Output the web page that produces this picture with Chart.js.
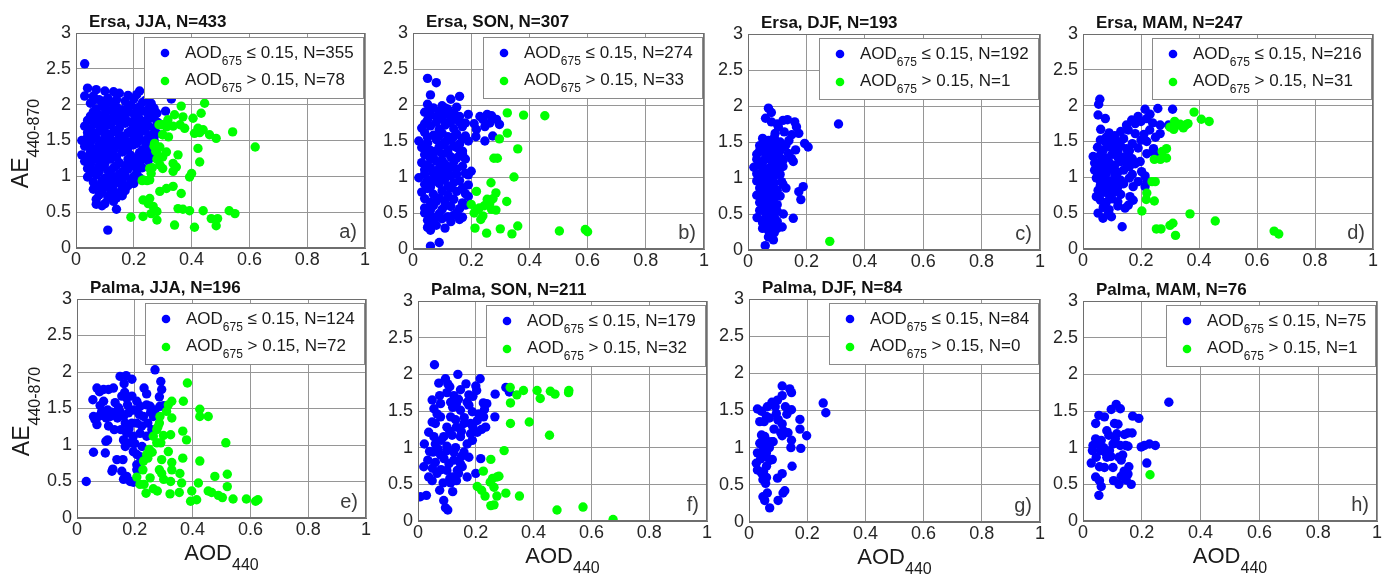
<!DOCTYPE html>
<html>
<head>
<meta charset="utf-8">
<script src="https://cdn.jsdelivr.net/npm/chart.js@4.4.1/dist/chart.umd.min.js"></script>
<style>
  body { margin: 0; background: #fff; width: 1383px; height: 574px; overflow: hidden; position: relative; }
  canvas { position: absolute; }
</style>
</head>
<body>
<script>
// ---- data: AE(440-870) vs AOD(440), split by AOD(675) threshold ----
const xTicks = [0, 0.2, 0.4, 0.6, 0.8, 1];
const yTicks = [0, 0.5, 1, 1.5, 2, 2.5, 3];

const sites = ['Ersa', 'Ersa', 'Ersa', 'Ersa', 'Palma', 'Palma', 'Palma', 'Palma'];
const seasons = ['JJA', 'SON', 'DJF', 'MAM', 'JJA', 'SON', 'DJF', 'MAM'];
const lowCounts = [355, 274, 192, 216, 124, 179, 84, 75];
const highCounts = [78, 33, 1, 31, 72, 32, 0, 1];
const panelLetters = ['a)', 'b)', 'c)', 'd)', 'e)', 'f)', 'g)', 'h)'];

const ersaJjaLow = [
  [0.03,2.57],[0.11,0.25],[0.33,2.08],[0.31,1.91],
  [0.04,2.23],[0.07,2.21],[0.10,2.19],[0.13,2.18],[0.03,2.12],[0.06,2.12],[0.08,2.07],[0.11,2.09],[0.15,2.16],[0.18,2.13],[0.21,2.14],[0.22,2.19],[0.25,2.09],[0.26,2.02],
  [0.05,2.02],[0.09,1.98],[0.12,2.03],[0.14,1.97],[0.17,2.05],[0.19,1.99],[0.23,2.03],[0.27,1.95],[0.16,1.93],[0.21,1.95],
  [0.06,1.90],[0.08,1.86],[0.11,1.92],[0.13,1.88],[0.15,1.85],[0.18,1.90],[0.20,1.87],[0.23,1.91],[0.25,1.86],[0.28,1.88],
  [0.04,1.78],[0.07,1.81],[0.09,1.76],[0.12,1.80],[0.14,1.77],[0.17,1.82],[0.19,1.76],[0.22,1.80],[0.24,1.77],[0.26,1.82],[0.28,1.76],
  [0.03,1.70],[0.05,1.66],[0.07,1.73],[0.10,1.69],[0.12,1.72],[0.15,1.67],[0.17,1.74],[0.20,1.69],[0.22,1.66],[0.25,1.71],[0.27,1.67],[0.29,1.73],
  [0.04,1.61],[0.06,1.57],[0.08,1.63],[0.11,1.59],[0.13,1.62],[0.16,1.56],[0.18,1.61],[0.21,1.58],[0.23,1.63],[0.26,1.57],[0.28,1.60],
  [0.02,1.50],[0.05,1.47],[0.07,1.53],[0.09,1.49],[0.12,1.52],[0.14,1.46],[0.17,1.51],[0.19,1.48],[0.22,1.53],[0.24,1.47],[0.27,1.51],
  [0.03,1.42],[0.06,1.38],[0.08,1.44],[0.10,1.40],[0.13,1.36],[0.15,1.43],[0.18,1.39],[0.20,1.44],[0.23,1.37],[0.25,1.41],[0.27,1.36],
  [0.02,1.30],[0.04,1.26],[0.07,1.33],[0.09,1.28],[0.11,1.32],[0.14,1.27],[0.16,1.34],[0.19,1.29],[0.21,1.25],[0.24,1.31],[0.26,1.27],
  [0.03,1.21],[0.05,1.17],[0.08,1.22],[0.10,1.18],[0.12,1.24],[0.15,1.19],[0.17,1.15],[0.20,1.21],[0.22,1.17],[0.25,1.22],
  [0.04,1.11],[0.06,1.07],[0.09,1.13],[0.11,1.08],[0.13,1.12],[0.16,1.06],[0.18,1.10],[0.21,1.05],[0.23,1.12],
  [0.04,0.99],[0.07,1.02],[0.10,0.97],[0.12,1.03],[0.14,0.96],[0.17,1.01],[0.19,0.95],[0.22,0.98],
  [0.06,0.92],[0.08,0.87],[0.11,0.93],[0.13,0.88],[0.15,0.91],[0.18,0.87],[0.20,0.90],
  [0.06,0.82],[0.09,0.78],[0.12,0.83],[0.14,0.77],[0.17,0.80],
  [0.07,0.68],[0.07,0.61],[0.09,0.59],[0.11,0.71],[0.13,0.65],[0.16,0.73],[0.14,0.54],[0.10,0.62],
  [0.06,2.06],[0.10,2.05],[0.14,2.07],[0.20,2.08],[0.24,2.06],
  [0.07,1.94],[0.10,1.95],[0.13,1.93],[0.18,1.96],[0.22,1.97],[0.25,1.94],
  [0.05,1.84],[0.10,1.84],[0.16,1.88],[0.21,1.84],[0.27,1.84],
  [0.06,1.75],[0.11,1.76],[0.16,1.78],[0.21,1.74],[0.23,1.72],
  [0.05,1.64],[0.09,1.66],[0.14,1.64],[0.19,1.64],[0.24,1.65],
  [0.04,1.55],[0.10,1.55],[0.15,1.54],[0.20,1.55],[0.25,1.54],
  [0.04,1.45],[0.11,1.44],[0.16,1.45],[0.21,1.46],[0.26,1.44],
  [0.05,1.34],[0.09,1.35],[0.12,1.39],[0.17,1.36],[0.22,1.33],[0.25,1.35],
  [0.06,1.24],[0.10,1.26],[0.13,1.28],[0.18,1.24],[0.23,1.24],
  [0.05,1.13],[0.08,1.15],[0.14,1.15],[0.19,1.14],[0.21,1.12],
  [0.05,1.04],[0.08,1.06],[0.15,1.03],[0.20,1.00],
  [0.09,0.94],[0.12,0.96],[0.16,0.94],
  [0.07,0.86],[0.10,0.85],[0.16,0.85],
  [0.08,0.74],[0.12,0.77],[0.14,0.70]
];
const ersaJjaHigh = [
  [0.445,2.02],[0.364,1.98],[0.341,1.86],[0.37,1.83],[0.318,1.79],[0.405,1.81],[0.433,1.88],[0.295,1.72],[0.313,1.69],[0.336,1.70],
  [0.36,1.72],[0.376,1.67],[0.422,1.67],[0.428,1.61],[0.44,1.65],[0.41,1.60],[0.462,1.58],[0.485,1.53],[0.542,1.62],[0.62,1.41],
  [0.30,1.58],[0.32,1.55],[0.272,1.46],[0.29,1.41],[0.28,1.34],[0.313,1.34],[0.30,1.27],[0.353,1.30],[0.336,1.18],[0.29,1.16],
  [0.422,1.39],[0.428,1.20],[0.255,1.11],[0.26,1.04],[0.30,1.11],[0.347,1.13],[0.336,1.07],[0.232,0.95],[0.255,0.95],[0.40,1.04],
  [0.393,0.99],[0.29,0.79],[0.313,0.83],[0.336,0.86],[0.364,0.76],[0.232,0.67],[0.255,0.69],[0.25,0.62],[0.267,0.58],[0.28,0.51],
  [0.26,0.48],[0.19,0.43],[0.232,0.44],[0.28,0.39],[0.353,0.55],[0.37,0.54],[0.393,0.52],[0.44,0.52],[0.341,0.32],[0.41,0.29],
  [0.468,0.41],[0.49,0.41],[0.485,0.31],[0.53,0.52],[0.55,0.48],[0.229,0.94],[0.246,0.94],[0.264,1.12],[0.27,1.42],[0.276,1.35],
  [0.28,1.24],[0.287,1.72],[0.305,1.72],[0.30,1.58]
];

const ersaSonLow = [
  [0.05,2.37],[0.08,2.31],[0.06,2.14],[0.13,2.08],[0.16,2.12],[0.06,0.04],[0.09,0.09],
  [0.05,2.01],[0.07,1.96],[0.10,1.99],[0.12,1.94],[0.15,1.97],
  [0.04,1.90],[0.06,1.86],[0.09,1.91],[0.11,1.87],[0.14,1.89],[0.16,1.84],[0.19,1.87],
  [0.05,1.79],[0.08,1.76],[0.10,1.81],[0.13,1.77],[0.15,1.80],[0.18,1.75],
  [0.03,1.68],[0.06,1.71],[0.09,1.66],[0.11,1.72],[0.14,1.67],[0.17,1.70],
  [0.04,1.62],[0.07,1.58],[0.10,1.61],[0.12,1.56],[0.15,1.60],[0.18,1.57],
  [0.02,1.50],[0.05,1.47],[0.08,1.52],[0.11,1.48],[0.13,1.51],[0.16,1.46],[0.19,1.50],
  [0.03,1.41],[0.06,1.37],[0.09,1.42],[0.12,1.38],[0.14,1.43],[0.17,1.36],
  [0.04,1.31],[0.07,1.27],[0.10,1.32],[0.13,1.28],[0.16,1.30],[0.18,1.25],
  [0.03,1.20],[0.05,1.16],[0.08,1.22],[0.11,1.18],[0.14,1.21],[0.17,1.15],
  [0.04,1.10],[0.07,1.06],[0.09,1.12],[0.12,1.08],[0.15,1.11],[0.18,1.05],[0.20,1.08],
  [0.02,0.99],[0.05,0.96],[0.08,1.01],[0.11,0.97],[0.13,1.02],[0.16,0.95],[0.19,1.03],
  [0.04,0.90],[0.06,0.86],[0.09,0.91],[0.12,0.87],[0.14,0.92],[0.17,0.85],[0.19,0.89],
  [0.03,0.79],[0.07,0.76],[0.10,0.81],[0.12,0.75],[0.15,0.80],[0.18,0.77],
  [0.04,0.70],[0.06,0.65],[0.09,0.71],[0.11,0.66],[0.14,0.69],[0.17,0.64],[0.19,0.73],
  [0.04,0.57],[0.07,0.60],[0.10,0.55],[0.13,0.59],[0.16,0.56],[0.18,0.61],
  [0.04,0.50],[0.06,0.46],[0.09,0.49],[0.12,0.45],[0.15,0.50],[0.17,0.44],
  [0.05,0.40],[0.07,0.36],[0.10,0.42],[0.13,0.38],[0.16,0.41],
  [0.05,0.30],[0.06,0.26],[0.08,0.33],[0.11,0.29],
  [0.23,1.84],[0.24,1.80],[0.255,1.87],[0.27,1.85],[0.287,1.80],[0.297,1.73],[0.264,1.75],[0.247,1.70],[0.218,1.66],[0.216,1.56],
  [0.247,1.50],[0.274,1.57],[0.21,1.74],
  [0.06,1.95],[0.11,1.96],[0.08,1.84],[0.13,1.84],[0.04,1.74],[0.12,1.75],[0.16,1.76],[0.05,1.55],[0.09,1.57],[0.14,1.56],
  [0.17,1.53],[0.04,1.45],[0.10,1.45],[0.15,1.41],[0.05,1.35],[0.08,1.36],[0.12,1.33],[0.17,1.32],[0.06,1.25],[0.10,1.23],
  [0.15,1.26],[0.06,1.13],[0.10,1.15],[0.13,1.14],[0.04,1.04],[0.07,1.05],[0.10,1.06],[0.15,1.04],[0.07,0.94],[0.10,0.96],
  [0.13,0.85],[0.05,0.84],[0.08,0.66],[0.12,0.72],[0.06,0.54],[0.11,0.60],[0.08,0.44],[0.14,0.47],[0.06,0.35]
];
const ersaSonHigh = [
  [0.324,1.89],[0.38,1.86],[0.453,1.85],[0.324,1.61],[0.297,1.53],[0.36,1.39],[0.278,1.26],[0.29,1.26],[0.347,1.00],[0.268,0.92],
  [0.218,0.80],[0.255,0.69],[0.264,0.64],[0.322,0.66],[0.285,0.78],[0.20,0.62],[0.21,0.50],[0.228,0.57],[0.27,0.55],[0.285,0.54],
  [0.24,0.46],[0.233,0.41],[0.213,0.29],[0.253,0.22],[0.30,0.28],[0.34,0.21],[0.36,0.32],[0.503,0.25],[0.592,0.27],[0.60,0.24],
  [0.245,0.60],[0.275,0.70],[0.22,0.55]
];

const ersaDjfLow = [
  [0.07,1.97],[0.08,1.91],[0.06,1.83],[0.08,1.78],[0.12,1.80],[0.135,1.81],[0.16,1.78],[0.166,1.71],[0.174,1.62],[0.124,1.64],
  [0.104,1.71],[0.093,1.62],[0.31,1.75],[0.194,1.48],[0.206,1.43],[0.163,1.39],[0.149,1.27],[0.138,1.34],[0.121,1.25],[0.155,1.23],
  [0.115,0.95],[0.189,0.88],[0.174,0.81],[0.181,0.70],[0.121,0.50],[0.155,0.44],[0.117,0.32],[0.09,0.47],[0.087,0.14],[0.059,0.06],
  [0.031,0.45],
  [0.05,1.55],[0.07,1.52],[0.09,1.56],[0.11,1.50],
  [0.04,1.45],[0.06,1.42],[0.08,1.47],[0.10,1.44],[0.13,1.46],
  [0.03,1.33],[0.05,1.37],[0.07,1.32],[0.09,1.36],[0.11,1.38],
  [0.03,1.26],[0.05,1.22],[0.07,1.27],[0.09,1.23],[0.11,1.28],
  [0.02,1.15],[0.04,1.18],[0.06,1.13],[0.08,1.17],[0.10,1.12],[0.12,1.16],
  [0.03,1.06],[0.05,1.02],[0.07,1.07],[0.09,1.03],[0.11,1.05],
  [0.03,0.96],[0.05,0.92],[0.07,0.97],[0.09,0.93],[0.12,0.91],
  [0.04,0.86],[0.06,0.82],[0.08,0.87],[0.10,0.83],[0.13,0.86],
  [0.03,0.76],[0.05,0.72],[0.07,0.77],[0.09,0.73],[0.11,0.75],
  [0.04,0.66],[0.06,0.62],[0.08,0.67],[0.10,0.63],
  [0.04,0.55],[0.06,0.52],[0.08,0.57],[0.10,0.54],
  [0.05,0.38],[0.07,0.42],[0.09,0.36],
  [0.05,0.30],[0.07,0.27],[0.08,0.32],[0.09,0.24],[0.07,0.18],
  [0.14,1.52],[0.12,1.43],[0.15,1.60],[0.10,1.75],
  [0.06,1.48],[0.08,1.40],[0.04,1.38],[0.06,1.28],[0.08,1.30],[0.10,1.20],[0.05,1.10],[0.07,1.12],[0.09,1.08],[0.04,1.00],
  [0.06,0.98],[0.08,1.00],[0.06,0.88],[0.08,0.92],[0.05,0.80],[0.07,0.82],[0.09,0.80],[0.05,0.68],[0.07,0.70],[0.05,0.60],
  [0.07,0.60],[0.06,0.45],[0.08,0.50],[0.10,0.40],[0.06,0.34],[0.10,0.30]
];
const ersaDjfHigh = [[0.28,0.12]];

const ersaMamLow = [
  [0.058,2.09],[0.054,2.02],[0.052,1.87],[0.077,1.82],[0.061,1.67],[0.214,1.95],[0.258,1.96],[0.309,1.95],[0.231,1.88],[0.19,1.85],
  [0.168,1.80],[0.266,1.73],[0.295,1.73],[0.266,1.61],[0.156,1.66],[0.15,1.73],[0.20,1.52],[0.22,1.50],[0.243,1.40],[0.249,1.33],
  [0.22,1.33],[0.197,1.22],[0.202,1.08],[0.214,1.02],[0.22,0.94],[0.214,0.87],[0.173,0.87],[0.162,0.73],[0.173,0.68],[0.156,0.61],
  [0.145,0.57],[0.052,0.50],[0.069,0.43],[0.087,0.49],[0.098,0.45],[0.135,0.31],[0.035,1.29],[0.04,1.10],[0.046,0.99],[0.052,0.82],
  [0.046,0.73],
  [0.09,1.62],[0.11,1.58],[0.13,1.64],[0.18,1.61],
  [0.06,1.52],[0.08,1.48],[0.10,1.53],[0.12,1.49],[0.14,1.54],[0.17,1.47],
  [0.05,1.42],[0.07,1.38],[0.09,1.43],[0.11,1.39],[0.13,1.44],[0.16,1.37],[0.19,1.41],
  [0.06,1.31],[0.08,1.27],[0.10,1.32],[0.12,1.28],[0.15,1.30],[0.17,1.26],
  [0.05,1.20],[0.07,1.16],[0.09,1.21],[0.11,1.17],[0.13,1.22],[0.16,1.15],[0.18,1.19],
  [0.06,1.09],[0.08,1.05],[0.10,1.11],[0.12,1.07],[0.14,1.10],[0.17,1.04],
  [0.07,0.98],[0.09,0.95],[0.11,1.00],[0.13,0.96],[0.16,0.99],[0.19,0.94],
  [0.06,0.89],[0.08,0.85],[0.10,0.90],[0.12,0.86],[0.14,0.91],
  [0.07,0.79],[0.09,0.75],[0.11,0.80],[0.13,0.76],
  [0.06,0.68],[0.08,0.65],[0.10,0.70],[0.12,0.66],
  [0.07,0.58],[0.09,0.55],[0.12,0.60],
  [0.18,1.75],[0.20,1.78],[0.22,1.82],[0.24,1.76],[0.23,1.66],[0.21,1.60],[0.25,1.56],
  [0.08,1.56],[0.10,1.45],[0.12,1.36],[0.07,1.25],[0.09,1.14],[0.11,1.04],[0.15,1.20],[0.08,0.92],[0.10,0.83],[0.12,0.95],
  [0.05,1.05],[0.04,1.20],[0.06,0.95],[0.14,1.28],[0.15,1.40]
];
const ersaMamHigh = [
  [0.383,1.91],[0.408,1.81],[0.435,1.78],[0.316,1.78],[0.325,1.73],[0.354,1.73],[0.362,1.75],[0.346,1.69],[0.313,1.67],[0.273,1.36],
  [0.288,1.40],[0.267,1.25],[0.246,1.25],[0.288,1.27],[0.249,0.94],[0.238,0.94],[0.22,0.78],[0.218,0.69],[0.246,0.67],[0.203,0.53],
  [0.369,0.49],[0.456,0.39],[0.253,0.28],[0.269,0.28],[0.30,0.33],[0.31,0.36],[0.319,0.19],[0.659,0.25],[0.675,0.21],[0.335,1.74],
  [0.30,1.70]
];

const palmaJjaLow = [
  [0.032,0.50],[0.055,1.62],[0.069,1.78],[0.078,1.73],[0.092,1.76],[0.109,1.76],[0.126,1.78],[0.057,1.39],[0.075,1.39],[0.069,1.28],
  [0.08,1.54],[0.092,1.60],[0.106,1.48],[0.101,1.37],[0.115,1.39],[0.109,1.26],[0.129,1.21],[0.106,1.07],[0.057,0.90],[0.098,0.89],
  [0.138,0.80],[0.124,0.67],[0.149,1.94],[0.17,1.95],[0.19,1.90],[0.163,1.84],[0.155,1.67],[0.172,1.64],[0.19,1.67],[0.207,1.60],
  [0.132,1.58],[0.144,1.51],[0.14,1.37],[0.161,1.39],[0.178,1.44],[0.195,1.48],[0.218,1.53],[0.232,1.78],[0.241,1.70],[0.27,2.03],
  [0.29,1.87],[0.293,1.76],[0.285,1.66],[0.27,1.48],[0.253,1.53],[0.241,1.55],[0.23,1.39],[0.264,1.39],[0.287,1.53],[0.30,1.54],
  [0.167,1.30],[0.19,1.30],[0.152,1.21],[0.172,1.16],[0.161,1.07],[0.184,1.03],[0.195,1.12],[0.218,1.16],[0.241,1.12],[0.259,1.21],
  [0.224,1.26],[0.207,1.30],[0.195,0.91],[0.207,0.87],[0.218,0.84],[0.167,0.98],[0.159,0.80],[0.155,0.64],[0.172,0.57],[0.161,0.53],
  [0.184,0.50],[0.195,0.49],[0.207,0.66],[0.207,0.73],[0.121,0.64],[0.10,1.05],[0.12,1.45],[0.085,1.45],[0.18,1.22],[0.20,1.02],
  [0.225,0.98],[0.245,1.30],[0.175,1.55],[0.215,1.42],[0.255,1.45],[0.15,1.45],[0.165,1.72],[0.062,1.35]
];
const palmaJjaHigh = [
  [0.382,1.85],[0.328,1.60],[0.316,1.55],[0.368,1.60],[0.425,1.49],[0.425,1.39],[0.454,1.39],[0.31,1.46],[0.287,1.39],[0.328,1.37],
  [0.285,1.30],[0.276,1.21],[0.299,1.13],[0.324,1.14],[0.264,1.12],[0.276,1.03],[0.29,1.03],[0.366,1.19],[0.379,1.07],[0.515,1.03],
  [0.25,0.94],[0.241,0.87],[0.23,0.78],[0.228,0.66],[0.316,0.91],[0.293,0.80],[0.328,0.76],[0.366,0.82],[0.425,0.78],[0.207,0.56],
  [0.218,0.46],[0.232,0.46],[0.253,0.55],[0.285,0.66],[0.293,0.61],[0.30,0.53],[0.324,0.50],[0.328,0.66],[0.356,0.61],[0.362,0.48],
  [0.42,0.48],[0.477,0.57],[0.52,0.60],[0.52,0.43],[0.239,0.34],[0.264,0.40],[0.278,0.37],[0.322,0.33],[0.354,0.35],[0.397,0.37],
  [0.393,0.23],[0.414,0.25],[0.454,0.37],[0.466,0.35],[0.489,0.31],[0.503,0.28],[0.54,0.26],[0.586,0.26],[0.618,0.23],[0.626,0.25],
  [0.26,0.90],[0.245,0.82],[0.28,1.25]
];

const palmaSonLow = [
  [0.057,2.13],[0.008,0.33],[0.029,0.35],[0.089,0.28],[0.095,0.18],[0.103,0.15],[0.075,0.42],[0.087,0.52],[0.113,0.52],[0.133,0.55],
  [0.17,0.60],[0.20,0.65],[0.217,0.85],[0.176,0.87],[0.153,0.74],[0.136,0.69],[0.10,0.69],[0.066,0.65],[0.049,0.55],[0.037,0.60],
  [0.02,0.74],[0.034,0.83],[0.022,1.05],[0.037,1.21],[0.049,1.35],[0.055,1.53],[0.049,1.65],[0.072,1.88],[0.075,1.71],[0.095,1.94],
  [0.103,1.87],[0.138,2.00],[0.166,1.87],[0.147,1.79],[0.176,1.72],[0.215,1.94],[0.20,1.84],[0.203,1.78],[0.226,1.61],[0.238,1.60],
  [0.23,1.52],[0.266,1.42],[0.304,1.82],[0.316,1.76],[0.267,1.73],[0.234,1.28],[0.205,1.37],[0.227,1.42],[0.182,1.33],[0.113,1.42],
  [0.078,1.42],[0.06,1.33],[0.055,1.15],[0.089,1.15],[0.118,1.17],[0.147,1.15],[0.17,1.05],[0.188,1.10],[0.159,0.94],[0.124,0.94],
  [0.10,0.96],[0.078,0.90],[0.052,0.94],[0.124,0.83],[0.107,0.78],[0.147,0.78],[0.118,0.60],[0.133,1.60],[0.124,1.71],[0.113,1.62],
  [0.147,1.51],[0.176,1.58],[0.188,1.49],[0.159,1.33],[0.133,1.28],[0.10,1.28],[0.078,1.60],[0.066,1.46],[0.182,1.19],[0.205,1.21],
  [0.06,1.05],[0.08,1.10],[0.10,1.02],[0.07,0.98],[0.09,0.85],[0.06,0.80],[0.11,1.22],[0.13,1.38],[0.15,1.22],[0.12,1.55],
  [0.10,1.75],[0.11,1.83],[0.14,1.66],[0.16,1.41],[0.19,1.28],[0.21,1.46],[0.22,1.25],[0.08,0.70],[0.13,1.00],[0.15,0.88],
  [0.05,0.72],[0.04,0.95],[0.17,1.62],[0.19,1.70],[0.11,0.58],[0.14,0.65],[0.12,0.40]
];
const palmaSonHigh = [
  [0.319,1.82],[0.342,1.72],[0.365,1.78],[0.412,1.78],[0.423,1.67],[0.458,1.77],[0.474,1.73],[0.522,1.78],[0.521,1.75],[0.32,1.61],
  [0.32,1.33],[0.385,1.35],[0.455,1.17],[0.298,0.96],[0.252,0.84],[0.226,0.68],[0.25,0.53],[0.258,0.58],[0.273,0.60],[0.28,0.61],
  [0.263,0.46],[0.205,0.47],[0.22,0.42],[0.232,0.34],[0.273,0.34],[0.304,0.38],[0.351,0.34],[0.252,0.21],[0.263,0.22],[0.481,0.15],
  [0.571,0.19],[0.675,0.02]
];

const palmaDjfLow = [
  [0.029,1.52],[0.043,1.49],[0.037,1.35],[0.052,1.35],[0.06,1.42],[0.063,1.55],[0.079,1.61],[0.098,1.64],[0.114,1.83],[0.114,1.70],
  [0.14,1.79],[0.146,1.74],[0.125,1.55],[0.094,1.46],[0.10,1.37],[0.114,1.32],[0.086,1.25],[0.109,1.20],[0.114,1.16],[0.134,1.20],
  [0.146,1.51],[0.175,1.38],[0.175,1.25],[0.198,1.16],[0.178,0.99],[0.146,1.10],[0.144,1.00],[0.148,0.75],[0.029,0.93],[0.025,0.79],
  [0.029,0.70],[0.043,0.66],[0.037,1.06],[0.043,1.17],[0.054,1.15],[0.068,1.08],[0.083,1.08],[0.052,0.88],[0.071,0.83],[0.048,0.57],
  [0.057,0.52],[0.098,0.59],[0.114,0.65],[0.048,0.34],[0.054,0.29],[0.063,0.39],[0.071,0.19],[0.10,0.29],[0.117,0.39],[0.123,0.42],
  [0.255,1.60],[0.264,1.47],[0.054,1.06],
  [0.04,1.05],[0.05,0.98],[0.06,0.93],[0.04,0.85],[0.06,0.75],[0.05,1.12],[0.07,1.00],[0.08,0.84],[0.06,0.60],[0.05,0.68],
  [0.07,1.40],[0.09,1.55],[0.10,1.38],[0.12,1.22],[0.13,1.45],[0.08,1.08]
];
const palmaDjfHigh = [];

const palmaMamLow = [
  [0.292,1.62],[0.113,1.59],[0.127,1.53],[0.096,1.52],[0.054,1.44],[0.073,1.42],[0.043,1.33],[0.107,1.33],[0.119,1.32],[0.081,1.23],
  [0.088,1.17],[0.115,1.19],[0.141,1.18],[0.153,1.20],[0.167,1.20],[0.169,1.43],[0.19,1.40],[0.034,1.03],[0.032,0.96],[0.043,1.12],
  [0.062,1.10],[0.059,0.96],[0.077,0.93],[0.09,0.96],[0.102,1.05],[0.127,1.03],[0.145,1.03],[0.153,1.02],[0.198,1.01],[0.209,1.03],
  [0.226,1.05],[0.246,1.03],[0.217,0.79],[0.122,0.87],[0.13,0.83],[0.156,0.74],[0.028,0.79],[0.056,0.74],[0.073,0.73],[0.102,0.73],
  [0.043,0.60],[0.056,0.55],[0.062,0.47],[0.054,0.35],[0.104,0.55],[0.122,0.50],[0.13,0.61],[0.147,0.56],[0.164,0.50],[0.153,0.64],
  [0.081,0.87],[0.045,0.87],[0.05,1.05],[0.07,1.00],[0.095,0.88],[0.11,1.12],[0.135,0.90],[0.14,0.68]
];
const palmaMamHigh = [[0.228,0.63]];

const lowSeries = [ersaJjaLow, ersaSonLow, ersaDjfLow, ersaMamLow, palmaJjaLow, palmaSonLow, palmaDjfLow, palmaMamLow];
const highSeries = [ersaJjaHigh, ersaSonHigh, ersaDjfHigh, ersaMamHigh, palmaJjaHigh, palmaSonHigh, palmaDjfHigh, palmaMamHigh];

// ---- layout: plot area of each panel on the page [left, top, right, bottom] ----
const plotBoxes = [
  [76, 33, 365, 248], [413, 33, 704, 249], [748, 34, 1040, 250], [1083, 34, 1373, 249],
  [77, 299, 366, 518], [418, 301, 707, 521], [749, 299, 1040, 522], [1083, 301, 1377, 521]
];

const FONT = "'Liberation Sans', Arial, Helvetica, sans-serif";
const BLUE = '#0000ff';
const GREEN = '#00ff00';
const DOT = 4.7;

Chart.defaults.font.family = FONT;

// draws text runs side by side, each with its own size and baseline drop
function drawRuns(ctx, x, y, runs) {
  let cx = x;
  for (const [text, size, drop] of runs) {
    ctx.font = size + 'px ' + FONT;
    ctx.fillText(text, cx, y + drop);
    cx += ctx.measureText(text).width;
  }
  return cx - x;
}
function runsWidth(ctx, runs) {
  let w = 0;
  for (const [text, size] of runs) {
    ctx.font = size + 'px ' + FONT;
    w += ctx.measureText(text).width;
  }
  return w;
}

const panelDecor = {
  id: 'panelDecor',
  afterDraw(chart, args, o) {
    const { ctx, chartArea: a } = chart;
    ctx.save();
    ctx.textAlign = 'left';
    ctx.textBaseline = 'alphabetic';

    // axes box
    ctx.strokeStyle = '#6e6e6e';
    ctx.lineWidth = 1;
    ctx.strokeRect(Math.round(a.left) + 0.5, Math.round(a.top) + 0.5,
      Math.round(a.right - a.left) - 1, Math.round(a.bottom - a.top) - 1);

    // title
    ctx.fillStyle = '#111';
    ctx.font = 'bold 17px ' + FONT;
    ctx.fillText(o.title, a.left + 13, a.top - 6);

    // panel letter
    ctx.fillStyle = '#3c3c3c';
    ctx.font = '20px ' + FONT;
    ctx.textAlign = 'right';
    ctx.fillText(o.letter, a.right - 8, a.bottom - 10);
    ctx.textAlign = 'left';

    // legend
    const rows = [[o.lowText, BLUE], [o.highText, GREEN]];
    const runsFor = t => [['AOD', 17, 0], ['675', 12, 7], [t, 17, 0]];
    const textW = Math.max(...rows.map(r => runsWidth(ctx, runsFor(r[0]))));
    const boxW = Math.round(41 + textW + 9);
    const boxR = Math.round(a.right) - 2;
    const boxL = boxR - boxW;
    const boxT = Math.round(a.top) + 4;
    ctx.fillStyle = '#fff';
    ctx.fillRect(boxL, boxT, boxW, 61);
    ctx.strokeStyle = '#8a8a8a';
    ctx.strokeRect(boxL + 0.5, boxT + 0.5, boxW, 61);
    rows.forEach(([t, c], k) => {
      ctx.fillStyle = c;
      ctx.beginPath();
      ctx.arc(boxL + 21, boxT + 16 + k * 28, 4.3, 0, Math.PI * 2);
      ctx.fill();
      ctx.fillStyle = '#1a1a1a';
      drawRuns(ctx, boxL + 41, boxT + 21 + k * 27, runsFor(t));
    });

    // axis titles
    ctx.fillStyle = '#1a1a1a';
    if (o.yTitle) {
      const runs = [['AE', 23, 0], ['440-870', 16, 11]];
      const w = runsWidth(ctx, runs);
      ctx.save();
      ctx.translate(a.left - 48, (a.top + a.bottom) / 2 + 3);
      ctx.rotate(-Math.PI / 2);
      drawRuns(ctx, -w / 2, 0, runs);
      ctx.restore();
    }
    if (o.xTitle) {
      const runs = [['AOD', 22, 0], ['440', 16, 10]];
      const w = runsWidth(ctx, runs);
      drawRuns(ctx, (a.left + a.right) / 2 - w / 2, a.bottom + 42, runs);
    }
    ctx.restore();
  }
};

const toXY = pts => pts.map(([x, y]) => ({ x, y }));

plotBoxes.forEach(([L, T, R, B], i) => {
  const row = i < 4 ? 0 : 1;
  const col = i % 4;
  const yAxisW = 40, xAxisH = 22;
  const padL = col === 0 ? L : 45;
  const padT = 33;
  const padR = 12;
  const padB = row === 0 ? 24 : 574 - B;

  const cv = document.createElement('canvas');
  cv.width = (R - L) + padL + padR;
  cv.height = (B - T) + padT + padB;
  cv.style.left = (L - padL) + 'px';
  cv.style.top = (T - padT) + 'px';
  document.body.appendChild(cv);

  const total = lowCounts[i] + highCounts[i];
  new Chart(cv, {
    type: 'scatter',
    data: {
      datasets: [
        { label: 'high', data: toXY(highSeries[i]), backgroundColor: GREEN, pointRadius: DOT, pointBorderWidth: 0, order: 0 },
        { label: 'low', data: toXY(lowSeries[i]), backgroundColor: BLUE, pointRadius: DOT, pointBorderWidth: 0, order: 1 }
      ]
    },
    options: {
      responsive: false,
      animation: false,
      devicePixelRatio: 1,
      events: [],
      layout: { padding: { left: padL - yAxisW, top: padT, right: padR, bottom: padB - xAxisH } },
      plugins: {
        legend: { display: false },
        tooltip: { enabled: false },
        panelDecor: {
          title: sites[i] + ', ' + seasons[i] + ', N=' + total,
          letter: panelLetters[i],
          lowText: ' \u2264 0.15, N=' + lowCounts[i],
          highText: ' > 0.15, N=' + highCounts[i],
          yTitle: col === 0,
          xTitle: row === 1
        }
      },
      scales: {
        x: {
          type: 'linear', min: 0, max: 1,
          afterBuildTicks: s => { s.ticks = xTicks.map(v => ({ value: v })); },
          afterFit: s => { s.height = xAxisH; },
          ticks: { font: { size: 18 }, color: '#262626', padding: 1, maxRotation: 0, callback: v => String(v) },
          grid: { color: '#969696', drawTicks: false },
          border: { color: '#6e6e6e' }
        },
        y: {
          type: 'linear', min: 0, max: 3,
          afterBuildTicks: s => { s.ticks = yTicks.map(v => ({ value: v })); },
          afterFit: s => { s.width = yAxisW; },
          ticks: { font: { size: 18 }, color: '#262626', padding: 5, callback: v => String(v) },
          grid: { color: '#969696', drawTicks: false },
          border: { color: '#6e6e6e' }
        }
      }
    },
    plugins: [panelDecor]
  });
});
</script>
</body>
</html>
